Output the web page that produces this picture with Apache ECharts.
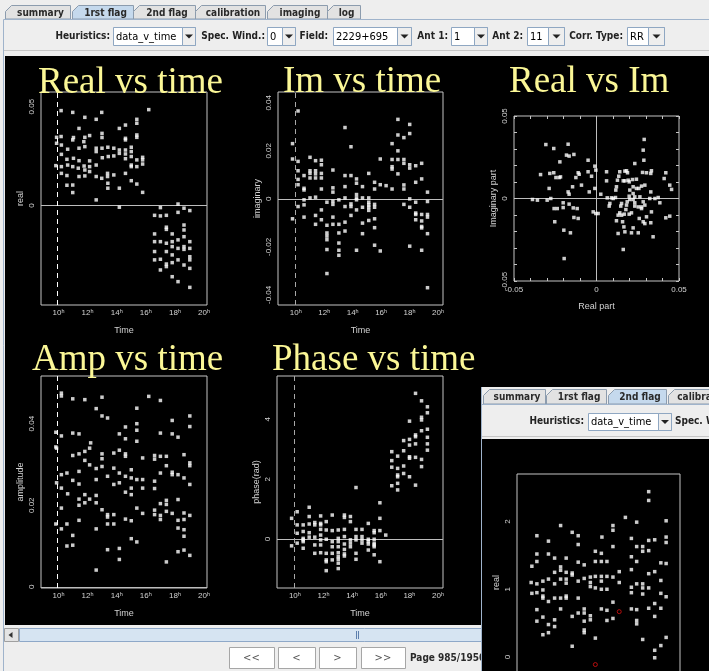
<!DOCTYPE html>
<html>
<head>
<meta charset="utf-8">
<script src="https://cdn.jsdelivr.net/npm/echarts@6/dist/echarts.min.js"></script>
<style>
  html, body { margin: 0; padding: 0; background: #eeeeee; }
  #chart { width: 709px; height: 671px; }
</style>
</head>
<body>
<div id="chart"></div>
<script>
// ---- Visibility data, baseline 1-11, RR, field 2229+695 (hours, value) ----
const flagStartHour = 9.95;

const realVsTime = [
  [10.18,0.048],[10.98,0.0471],[11.81,0.0446],[12.59,0.0436],[12.97,0.0471],[16.2,0.0485],
  [11.41,0.039],[14.6,0.0407],[14.18,0.039],[15.38,0.0436],[15.38,0.0416],
  [9.87,0.0345],[10.18,0.0349],[11.03,0.0344],[10.98,0.0332],[11.81,0.0345],[12.14,0.0354],
  [12.99,0.0365],[12.99,0.0344],[11.74,0.0323],[9.87,0.0315],[10.2,0.0306],[10.63,0.0285],
  [11.41,0.029],[11.81,0.0298],[12.59,0.029],[12.59,0.0273],[12.99,0.029],[13.39,0.0295],
  [13.8,0.029],[14.18,0.0281],[14.18,0.0264],[14.6,0.0281],[14.6,0.0261],[14.6,0.0332],
  [14.6,0.034],[15.0,0.0295],[15.0,0.0273],[15.38,0.0357],[15.38,0.0345],[13.8,0.0251],
  [13.42,0.0248],[13.01,0.0242],[14.6,0.0237],[15.0,0.0248],[15.78,0.0244],[15.78,0.0231],
  [15.38,0.0231],[10.2,0.0259],[9.82,0.0202],[10.2,0.0197],[10.58,0.0234],[10.63,0.0205],
  [11.03,0.0239],[11.41,0.0227],[10.98,0.0197],[11.36,0.0189],[11.76,0.02],[12.14,0.0226],
  [12.14,0.0197],[11.81,0.018],[12.59,0.0205],[15.0,0.0205],[15.0,0.0197],[15.38,0.0197],
  [15.78,0.021],[10.2,0.0163],[10.58,0.0152],[11.41,0.0147],[11.81,0.015],[12.14,0.0172],
  [12.59,0.0147],[12.97,0.0138],[13.37,0.0163],[13.37,0.0147],[13.8,0.0155],[13.39,0.0113],
  [13.39,0.0088],[14.18,0.0088],[14.6,0.0163],[15.0,0.0126],[15.38,0.0109],[10.58,0.0103],
  [10.98,0.0104],[10.98,0.0066],[12.59,0.0029],[15.78,0.0067],[14.18,-0.0008],
  [17.0,-0.001],[18.21,0.0008],[18.21,-0.0034],[18.62,-0.0013],[19.02,-0.0025],[16.6,-0.0049],
  [17.0,-0.0052],[17.41,-0.0049],[17.41,-0.0109],[17.41,-0.012],[16.6,-0.0143],[17.0,-0.0182],
  [16.6,-0.0182],[16.6,-0.0232],[16.6,-0.0274],[17.0,-0.0271],[17.0,-0.0325],[17.41,-0.019],
  [17.41,-0.0232],[17.41,-0.0295],[17.41,-0.0308],[17.81,-0.0143],[17.81,-0.0182],[17.81,-0.0207],
  [17.81,-0.0249],[17.81,-0.0288],[17.81,-0.0359],[18.21,-0.0173],[18.21,-0.0216],[18.21,-0.0274],
  [18.21,-0.0384],[18.62,-0.0098],[18.62,-0.0123],[18.62,-0.0157],[18.62,-0.0207],[18.62,-0.03],
  [19.02,-0.0182],[19.02,-0.0216],[19.02,-0.0258],[19.02,-0.0274],[19.02,-0.0317],[19.02,-0.0413],
  [18.62,-0.0221]
];

const imagVsTime = [
  [10.16,0.0366],[9.77,0.023],[9.77,0.0166],[10.16,0.0156],[9.77,-0.0083],[10.16,0.0117],[10.16,0.0081],[10.16,0.0059],[10.16,-0.0032],
  [10.58,0.0097],[10.58,0.0044],[10.58,0.0037],[10.58,-0.0004],[10.58,-0.0025],[10.58,-0.0076],
  [11.0,0.0173],[11.0,0.0117],[11.0,0.0106],[11.0,0.0087],[11.0,0.0004],
  [11.39,0.0159],[11.39,0.0117],[11.39,0.0104],[11.39,0.0087],[11.39,0.0007],[11.39,-0.0069],[11.39,-0.0106],
  [11.8,0.0161],[11.8,0.0142],[11.8,0.0106],[11.8,0.0087],[11.8,0.0041],[11.8,-0.0046],[11.8,-0.0087],
  [12.19,-0.0014],[12.19,-0.011],[12.19,-0.0142],[12.19,-0.0155],[12.19,-0.017],[12.19,-0.0211],[12.19,-0.0311],
  [12.61,0.012],[12.61,0.0046],[12.61,0.0028],[12.61,-0.001],[12.61,-0.0023],[12.61,-0.0076],[12.61,-0.0106],
  [13.03,-0.0004],[13.03,-0.0106],[13.03,-0.0142],[13.03,-0.0184],[13.03,-0.0214],[13.03,-0.0235],
  [13.46,0.0297],[13.46,0.0097],[13.46,0.0051],[13.46,0.0004],[13.46,-0.0032],[13.46,-0.0097],[13.46,-0.0134],
  [13.88,0.0217],[13.88,0.0097],[13.88,-0.0021],[13.88,-0.0032],[13.88,-0.0069],
  [14.27,0.0083],[14.27,0.0065],[14.27,0.0018],[14.27,0.0004],[14.27,-0.0004],[14.27,-0.0046],[14.27,-0.0214],
  [14.69,0.0051],[14.69,0.0004],[14.69,-0.0101],[14.69,-0.0145],[14.69,-0.0035],
  [15.13,0.0106],[15.13,0.0004],[15.13,-0.0014],[15.13,-0.0035],[15.13,-0.0048],[15.13,-0.009],[15.13,-0.0025],
  [15.54,0.0069],[15.54,0.0041],[15.54,-0.0023],[15.54,-0.0035],[15.54,-0.0083],[15.54,-0.012],[15.54,-0.0193],
  [15.94,0.0166],[15.94,0.0059],[15.94,-0.0217],
  [16.35,0.0055],
  [16.77,0.023],[16.77,0.0164],[16.77,0.0134],[16.77,0.0124],[16.77,0.0041],
  [17.18,0.0331],[17.18,0.0266],[17.18,0.02],[17.18,0.0164],[17.18,0.0104],
  [17.6,0.0255],[17.6,0.0164],[17.6,0.0148],[17.6,0.0058],[17.6,0.0041],[17.6,-0.0023],
  [18.01,0.031],[18.01,0.0272],[18.01,0.0142],[18.01,0.0128],[18.01,0],[18.01,-0.0035],[18.01,-0.0197],
  [18.43,0.0138],[18.43,0.0069],[18.43,-0.0014],[18.43,-0.0059],[18.43,-0.0065],[18.43,-0.0087],
  [18.85,0.0148],[18.85,0.0083],[18.85,-0.0065],[18.85,-0.0092],[18.85,-0.0115],[18.85,-0.0121],[18.85,-0.0214],
  [19.26,0.0028],[19.26,-0.0011],[19.26,-0.0065],[19.26,-0.0076],[19.26,-0.0145],[19.26,-0.037]
];

// [real, imaginary]
const realVsImag = [
  [-0.0307,0.0327],[-0.0259,0.0303],[-0.0172,0.0329],[-0.0182,0.0263],[-0.0166,0.0257],[-0.0137,0.0267],
  [-0.0339,0.0145],[-0.0283,0.0152],[-0.0259,0.0156],[-0.0226,0.0127],[-0.0218,0.0131],[-0.0246,0.0127],
  [-0.0222,0.0222],[-0.0287,0.0061],[-0.0277,0],[-0.0299,-0.001],[-0.0358,-0.001],[-0.0388,-0.0006],
  [-0.0257,-0.0061],[-0.0238,-0.0061],[-0.0202,-0.0026],[-0.0202,-0.0055],[-0.0166,-0.0034],[-0.0172,0.004],
  [-0.0166,0.0026],[-0.0145,0.0071],[-0.0125,0.0127],[-0.0111,0.0156],[-0.0105,0.0147],[-0.0091,0.0081],
  [-0.0051,0.0232],[-0.0051,0.0162],[-0.003,0.0135],[-0.001,0.0196],[-0.0004,0.0172],[-0.001,0.0061],
  [-0.0044,0.004],[-0.002,-0.0081],[-0.0004,-0.0091],[0.001,-0.0091],[0.0026,0.0026],[-0.0253,-0.0141],
  [-0.0198,-0.0192],[-0.0158,-0.0208],[-0.0196,-0.0364],[-0.0141,-0.0057],[-0.0117,-0.0061],[-0.0137,-0.0115],
  [-0.0111,-0.0121],[0.0061,0.0162],[0.0061,0.0107],[0.0065,0.0004],[0.0091,0.0004],[0.0101,0],
  [0.0081,-0.003],[0.0077,-0.0046],[0.0115,0.0006],[0.0117,0.0051],[0.0121,0.0071],[0.0127,0.0111],
  [0.0135,0.0135],[0.0141,0.0162],[0.0172,0.0166],[0.0182,0.0168],[0.0188,0.0156],[0.0162,0.0107],
  [0.0172,0.0107],[0.0192,0.0111],[0.0198,0.0101],[0.0218,0.0115],[0.0232,0.0212],[0.0242,0.0117],
  [0.0222,0.0071],[0.0202,0.0051],[0.0242,0.0061],[0.0257,0.0061],[0.0273,0.0075],[0.0293,0.0081],
  [0.0279,0.0158],[0.0303,0.0156],[0.0287,0.0232],[0.0283,0.0293],[0.0289,0.0358],[0.0333,0.0168],
  [0.0329,0.0152],[0.0329,0.004],[0.0323,0],[0.0354,0],[0.0374,0.0006],[0.0384,-0.0026],
  [0.041,0.0121],[0.042,0.0156],[0.0444,0.0081],[0.0455,0.0055],[0.042,-0.0117],[0.0444,-0.0107],
  [0.0333,-0.0081],[0.0329,-0.0147],[0.0343,-0.0232],[0.0293,-0.0152],[0.0283,-0.0141],[0.0303,-0.0111],
  [0.0259,-0.0121],[0.0253,-0.0051],[0.0232,-0.0046],[0.0232,-0.0026],[0.0222,-0.0006],[0.0232,0.001],
  [0.0222,0.003],[0.0202,-0.0006],[0.0186,-0.002],[0.0182,-0.004],[0.0178,-0.0067],[0.0168,-0.0095],
  [0.0152,-0.0101],[0.0141,-0.0087],[0.0131,-0.0101],[0.0121,-0.0135],[0.0131,-0.0212],[0.0158,-0.0141],
  [0.0166,-0.0172],[0.0172,-0.0202],[0.0198,-0.0095],[0.0212,-0.0087],[0.0212,-0.0208],[0.0222,-0.0178],
  [0.0253,-0.0208],[0.0273,-0.0051],[0.0283,-0.002],[0.0263,0.001],[0.0198,0.0014],[0.0162,-0.0309],
  [0.0152,-0.003],[0.0147,-0.0046],[0.0273,-0.0061],[0.0293,-0.004]
];

const ampVsTime = [
  [10.2,0.0475],[10.2,0.0468],[10.98,0.0461],[11.81,0.0459],[12.99,0.0465],[12.59,0.0437],[12.99,0.0419],
  [13.37,0.0414],[15.38,0.0438],[16.2,0.0467],[17.0,0.0457],[17.81,0.0408],[19.02,0.0419],[19.02,0.0393],
  [9.82,0.0379],[10.2,0.037],[10.98,0.0377],[11.41,0.0375],[9.82,0.0343],[9.87,0.034],[10.98,0.0322],
  [11.41,0.0326],[11.81,0.0332],[12.14,0.034],[12.21,0.0353],[12.99,0.0326],[12.99,0.0314],[13.8,0.0328],
  [14.18,0.0335],[14.6,0.0326],[14.6,0.032],[14.6,0.0392],[14.6,0.0363],[14.18,0.0375],[15.38,0.04],
  [15.38,0.0384],[15.38,0.0357],[15.78,0.0316],[16.6,0.0322],[16.6,0.0313],[17.0,0.0377],[17.0,0.032],
  [17.41,0.032],[17.81,0.0375],[18.21,0.0367],[18.62,0.0324],[19.02,0.0304],[19.02,0.0297],
  [10.2,0.0275],[10.58,0.0279],[9.87,0.0255],[10.2,0.0242],[10.98,0.0261],[11.41,0.0283],[11.41,0.0252],
  [11.81,0.031],[12.14,0.0299],[12.59,0.029],[12.59,0.0263],[12.99,0.0295],[13.37,0.0271],[13.8,0.0291],
  [13.8,0.0251],[14.18,0.0255],[14.18,0.0279],[14.6,0.0271],[14.6,0.0232],[15.0,0.0287],[15.0,0.0267],
  [15.0,0.0242],[15.0,0.0226],[15.38,0.0263],[15.78,0.0263],[15.78,0.0242],[16.6,0.0259],[16.6,0.0241],
  [17.0,0.0279],[17.41,0.0297],[17.81,0.0281],[17.81,0.0275],[18.21,0.0275],[18.62,0.0267],[19.02,0.0251],
  [10.63,0.0228],[10.2,0.0193],[10.2,0.0142],[11.41,0.0215],[11.41,0.02],[11.81,0.0226],[11.81,0.0206],
  [12.14,0.0215],[12.59,0.0224],[12.59,0.0206],[12.99,0.0189],[13.37,0.0177],[13.37,0.0171],[13.37,0.0154],
  [13.8,0.0154],[13.8,0.0177],[14.6,0.0166],[15.0,0.0162],[15.38,0.0193],[15.78,0.018],[16.6,0.0188],
  [16.6,0.0177],[17.0,0.0204],[17.0,0.0175],[17.0,0.0165],[17.41,0.0212],[17.41,0.0202],[17.41,0.0185],
  [17.81,0.018],[18.21,0.0214],[18.21,0.0163],[18.21,0.0144],[18.62,0.0181],[18.62,0.0165],[18.62,0.014],
  [18.62,0.0124],[19.02,0.0175],[9.82,0.0154],[10.58,0.0154],[10.98,0.0126],[10.58,0.01],[10.98,0.0102],
  [11.41,0.0163],[12.59,0.0142],[13.37,0.0091],[14.18,0.0094],[14.18,0.0067],[15.0,0.0118],[15.38,0.011],
  [17.41,0.0061],[18.21,0.0086],[18.62,0.009],[19.02,0.0077],[12.59,0.0041]
];

const phaseVsTime = [
  [9.77,0.69],[10.16,0.91],[9.77,-0.23],[10.16,0.47],[10.16,0.19],[10.16,-0.14],
  [10.58,0.47],[10.58,0.25],[10.58,0.02],[10.58,-0.03],[10.58,-0.09],[10.58,-0.31],
  [11.0,1.06],[11.0,0.75],[11.0,0.5],[11.0,0.21],[11.0,0.06],
  [11.39,0.55],[11.39,0.47],[11.39,0.06],[11.39,-0.2],[11.39,-0.48],
  [11.8,0.77],[11.8,0.52],[11.8,0.47],[11.8,0.32],[11.8,0.13],[11.8,-0.03],[11.8,-0.2],[11.8,-0.46],
  [12.19,0.58],[12.19,0.3],[12.19,-0.01],[12.19,-0.48],[12.19,-0.7],[12.19,-0.76],[12.19,-1.06],
  [12.61,0.8],[12.61,0.28],[12.61,-0.09],[12.61,-0.26],[12.61,-0.48],[12.61,-0.7],
  [13.03,0.3],[13.03,0.02],[13.03,-0.09],[13.03,-0.26],[13.03,-0.46],[13.03,-0.59],[13.03,-0.68],[13.03,-0.81],[13.03,-0.99],
  [13.46,0.8],[13.46,0.72],[13.46,0.32],[13.46,0.08],[13.46,-0.17],[13.46,-0.35],[13.46,-0.5],[13.46,-0.57],
  [13.88,0.75],[13.88,0.58],[13.88,-0.03],[13.88,-0.14],[13.88,-0.26],
  [14.27,1.72],[14.27,0.32],[14.27,0.08],[14.27,-0.03],[14.27,-0.48],[14.27,-0.68],
  [14.69,0.32],[14.69,0.08],[14.69,-0.03],[14.69,-0.14],
  [15.13,0.52],[15.13,-0.01],[15.13,-0.09],[15.13,-0.37],[15.13,-0.17],
  [15.54,0.28],[15.54,0.21],[15.54,-0.01],[15.54,-0.14],[15.54,-0.2],[15.54,-0.26],[15.54,-0.53],
  [15.94,1.21],[15.94,0.69],[15.94,0.28],[15.94,-0.76],
  [16.35,0.13],
  [16.77,2.92],[16.77,2.62],[16.77,2.4],[16.77,1.78],
  [17.18,2.77],[17.18,2.36],[17.18,2.14],[17.18,2.08],[17.18,1.86],[17.18,1.64],
  [17.6,3.29],[17.6,2.95],[17.6,2.44],[17.6,2.19],
  [18.01,3.94],[18.01,3.33],[18.01,3.14],[18.01,2.75],[18.01,2.7],[18.01,2.08],
  [18.43,3.42],[18.43,3.48],[18.43,3.18],[18.43,2.73],[18.43,1.8],[18.43,4.87],
  [18.85,4.62],[18.85,4.07],[18.85,3.98],[18.85,3.62],[18.85,2.66],[18.85,2.42],
  [19.26,4.42],[19.26,4.22],[19.26,3.67],[19.26,3.4],[19.26,3.18],[19.26,2.97]
];

// second flagging pass (real part, rescaled)
const secondRealVsTime = [
  [10.19,1.79],[10.19,1.52],[10.19,1.41],[9.84,1.34],[9.79,1.1],[9.84,0.94],[10.19,1.08],[10.19,0.95],[10.19,0.7],[10.19,0.53],
  [10.61,1.12],[10.61,0.99],[10.61,0.9],[10.61,0.87],[10.61,0.59],[10.61,0.33],
  [11.0,1.71],[11.0,1.52],[11.0,1.15],[11.0,0.82],[11.0,0.48],[11.0,0.36],
  [11.43,1.46],[11.43,1.25],[11.43,1.08],[11.43,0.87],[11.43,0.55],[11.43,0.45],
  [11.85,1.94],[11.85,1.33],[11.85,1.28],[11.85,1.15],[11.85,0.87],[11.85,0.71],
  [12.24,1.46],[12.24,1.25],[12.24,1.15],[12.24,1.09],[12.24,0.9],[12.24,0.87],
  [12.66,1.84],[12.66,1.24],[12.66,1.21],[12.66,0.6],[12.66,0.16],
  [13.08,1.79],[13.08,1.66],[13.08,1.4],[13.08,1.12],[13.08,0.87],[13.08,0.65],
  [13.5,1.36],[13.5,1.16],[13.5,0.71],[13.5,0.65],[13.5,0.53],[13.5,0.4],[13.5,0.36],
  [13.93,1.18],[13.93,1.1],[13.93,1.04],[13.93,0.61],[13.93,0.55],
  [14.28,1.56],[14.28,1.41],[14.28,1.19],[14.28,1.02],[14.28,0.28],
  [14.7,1.53],[14.7,1.41],[14.7,1.19],[14.7,1.12],[14.7,1.0],[14.74,1.77],[14.7,0.71],
  [15.09,1.41],[15.09,1.19],[15.09,1.0],[15.09,0.69],[15.09,0.54],
  [15.51,1.94],[15.51,1.87],[15.51,1.63],[15.51,1.18],[15.51,0.81],[15.51,0.57],
  [15.95,1.26],[15.95,1.1],
  [16.38,2.06],
  [16.8,1.75],[16.8,1.48],[16.8,1.29],[16.8,1.03],[16.8,0.95],[16.8,0.71],
  [17.17,1.99],[17.17,1.41],[17.17,1.63],[17.17,1.08],[17.17,0.7],[17.17,0.54],[17.17,0.49],
  [17.59,1.63],[17.59,1.56],[17.59,1.08],[17.59,1.02],[17.59,0.93],[17.59,0.26],
  [18.01,2.44],[18.01,2.31],[18.01,1.72],[18.01,1.57],[18.01,1.23],[18.01,1.02],[18.01,0.72],
  [18.43,1.73],[18.43,1.26],[18.43,0.79],[18.43,0.6],[18.43,0.1],[18.43,-0.01],
  [18.86,1.39],[18.86,1.13],[18.86,0.94],[18.86,0.72],[18.86,0.17],
  [19.23,2.01],[19.23,1.77],[19.23,1.69],[19.23,1.38],[19.23,0.89],[19.23,0.29]
];
const secondFlagged = [[15.95,0.67],[14.28,-0.11]];

// tick labels
const timeTicks = [10, 12, 14, 16, 18, 20];
const realTicks = [0, 0.05];
const imagTicks = [-0.04, -0.02, 0, 0.02, 0.04];
const ampTicks = [0, 0.02, 0.04];
const phaseTicks = [0, 2, 4];
const secondRealTicks = [0, 1, 2];

const mainTabs = ['summary', '1rst flag', '2nd flag', 'calibration', 'imaging', 'log'];
const popupTabs = ['summary', '1rst flag', '2nd flag', 'calibration'];
const navButtons = ['<<', '<', '>', '>>'];

// ---------------- window chrome ----------------
const G = [];
const uiBold = 'bold 10px "DejaVu Sans Condensed", "DejaVu Sans", sans-serif';
const uiPlain = '11px "DejaVu Sans Condensed", "DejaVu Sans", sans-serif';
function R(x, y, w, h, fill, stroke, z) {
  G.push({ type: 'rect', z: z, silent: true, shape: { x: x, y: y, width: w, height: h },
           style: { fill: fill || 'none', stroke: stroke || null, lineWidth: 1 } });
}
function L(x1, y1, x2, y2, stroke, z) {
  G.push({ type: 'line', z: z, silent: true, shape: { x1: x1, y1: y1, x2: x2, y2: y2 },
           style: { stroke: stroke, lineWidth: 1 } });
}
function P(points, fill, stroke, z) {
  G.push({ type: 'polygon', z: z, silent: true, shape: { points: points },
           style: { fill: fill, stroke: stroke || null, lineWidth: 1 } });
}
function T(str, x, y, font, fill, align, z) {
  G.push({ type: 'text', z: z, silent: true,
           style: { text: str, x: x, y: y, font: font, fill: fill, align: align || 'left', verticalAlign: 'middle' } });
}
function tab(x0, x1, y0, y1, label, selected, z) {
  P([[x0 + 0.5, y1], [x0 + 0.5, y0 + 6.5], [x0 + 6.5, y0 + 0.5], [x1 + 0.5, y0 + 0.5], [x1 + 0.5, y1]],
    selected ? '#c5d9ed' : '#e2e2e2', '#8c9cae', z);
  T(label, (x0 + x1) / 2 + 3, (y0 + y1) / 2 + 1, uiBold, '#2a2a2a', 'center', z);
}
function combo(x, y, w, h, arrowW, label, z) {
  R(x + 0.5, y + 0.5, w, h, '#ffffff', '#8fa7c2', z);
  R(x + w - arrowW + 0.5, y + 0.5, arrowW, h, '#eeeeee', '#8fa7c2', z);
  const cx = x + w - arrowW / 2 + 0.5, cy = y + h / 2 + 0.5;
  P([[cx - 4, cy - 2], [cx + 4, cy - 2], [cx, cy + 2]], '#222', null, z);
  T(label, x + 3, y + h / 2 + 1, uiPlain, '#000', 'left', z);
}

// main window (z 1)
const zm = 1;
const mainTabX = [[5, 70], [72, 133], [133, 195], [195, 265], [267, 327], [327, 360]];
mainTabs.forEach((t, i) => tab(mainTabX[i][0], mainTabX[i][1], 5, 19, t, i === 1, zm));
L(3.5, 19.5, 709, 19.5, '#9fb3cb', zm);
L(3.5, 19.5, 3.5, 671, '#9fb3cb', zm);
T('Heuristics:', 110, 36, uiBold, '#222', 'right', zm);
combo(113, 27, 82, 18, 13, 'data_v_time', zm);
T('Spec. Wind.:', 265, 36, uiBold, '#222', 'right', zm);
combo(267, 27, 28, 18, 13, '0', zm);
T('Field:', 328, 36, uiBold, '#222', 'right', zm);
combo(333, 27, 78, 18, 14, '2229+695', zm);
T('Ant 1:', 448, 36, uiBold, '#222', 'right', zm);
combo(451, 27, 36, 18, 13, '1', zm);
T('Ant 2:', 523, 36, uiBold, '#222', 'right', zm);
combo(527, 27, 37, 18, 16, '11', zm);
T('Corr. Type:', 623, 36, uiBold, '#222', 'right', zm);
combo(627, 27, 37, 18, 16, 'RR', zm);
L(4, 50.5, 709, 50.5, '#c6c6c6', zm);
R(5, 56, 704, 569, '#000000', null, zm);
// scroll bar
R(4.5, 628.5, 14, 13, '#e4e4e4', '#a0a0a0', zm);
P([[8.5, 635], [12.5, 632], [12.5, 638]], '#333', null, zm);
R(19.5, 628.5, 700, 13, '#d6e4f2', '#8ea8c8', zm);
L(356.5, 631, 356.5, 639, '#5d7fae', zm);
L(358.5, 631, 358.5, 639, '#5d7fae', zm);
// paging buttons
const navX = [[229, 274], [278, 315], [319, 356], [361, 405]];
navButtons.forEach((b, i) => {
  R(navX[i][0] + 0.5, 647.5, navX[i][1] - navX[i][0], 21, '#ffffff', '#a6a6a6', zm);
  T(b, (navX[i][0] + navX[i][1]) / 2, 658, '10px "DejaVu Sans", sans-serif', '#555', 'center', zm);
});
T('Page 985/1950', 410, 658, uiBold, '#2a2a2a', 'left', zm);

// plot titles (z 7)
const titleFont = '37px "Liberation Serif", "Times New Roman", serif';
const titleColor = '#fbf796';
T('Real vs time', 38, 83, titleFont, titleColor, 'left', 7);
T('Im vs time', 283, 82, titleFont, titleColor, 'left', 7);
T('Real vs Im', 509, 82, titleFont, titleColor, 'left', 7);
T('Amp vs time', 32, 360, titleFont, titleColor, 'left', 7);
T('Phase vs time', 272, 360, titleFont, titleColor, 'left', 7);

// overlapping second-pass window (z 10)
const zp = 10;
R(481, 387, 228, 284, '#eeeeee', null, zp);
L(481.5, 387, 481.5, 671, '#9fb3cb', zp);
const popTabX = [[483, 545], [546, 606], [608, 666], [668, 735]];
popupTabs.forEach((t, i) => tab(popTabX[i][0], popTabX[i][1], 389, 404, t, i === 2, zp));
L(481.5, 404.5, 709, 404.5, '#9fb3cb', zp);
T('Heuristics:', 584, 421, uiBold, '#222', 'right', zp);
combo(588, 413, 83, 17, 13, 'data_v_time', zp);
T('Spec. Wind.:', 675, 421, uiBold, '#222', 'left', zp);
L(482, 436.5, 709, 436.5, '#c6c6c6', zp);
R(482, 439, 227, 232, '#000000', null, zp);

// ---------------- axes ----------------
const labelColor = '#d2d2d2';
const sans = '"Liberation Sans", Arial, sans-serif';
const frameColor = '#c4c4c4';
const zeroColor = '#bdbdbd';

function grid(left, top, width, height, z) {
  return { left: left, top: top, width: width, height: height, show: true, outerBoundsMode: 'none',
           containLabel: false, borderColor: frameColor, borderWidth: 1, backgroundColor: 'transparent', z: z };
}
function timeAxis(gi, min, max, z) {
  return { gridIndex: gi, type: 'value', min: min, max: max, z: z,
    axisLine: { show: false, onZero: false }, axisTick: { show: false }, splitLine: { show: false },
    axisLabel: { customValues: timeTicks, formatter: v => v + 'ʰ', color: labelColor, fontSize: 8, fontFamily: sans, margin: 4 },
    name: 'Time', nameLocation: 'middle', nameGap: 21,
    nameTextStyle: { color: labelColor, fontSize: 9, fontFamily: sans } };
}
function valAxis(gi, min, max, ticks, name, z) {
  return { gridIndex: gi, type: 'value', min: min, max: max, z: z,
    axisLine: { show: false, onZero: false }, axisTick: { show: false }, splitLine: { show: false },
    axisLabel: { customValues: ticks, rotate: 90, formatter: v => String(v), color: labelColor, fontSize: 8, fontFamily: sans, margin: 5 },
    name: name, nameLocation: 'middle', nameGap: 16,
    nameTextStyle: { color: labelColor, fontSize: 9, fontFamily: sans } };
}
function complexAxis(gi, pos, isY, showLabel, name) {
  const a = { gridIndex: gi, type: 'value', min: -0.05, max: 0.05, interval: 0.01, position: pos, z: 5,
    axisLine: { show: false, onZero: false }, splitLine: { show: false },
    axisTick: { show: true, inside: true, length: 3, lineStyle: { color: frameColor } },
    axisLabel: { show: showLabel, color: labelColor, fontSize: 8, fontFamily: sans, margin: 5,
      formatter: v => { const r = Math.round(v * 100); return (r === -5 || r === 0 || r === 5) ? String(r / 100) : ''; } } };
  if (isY) a.axisLabel.rotate = 90;
  if (name) {
    a.name = name; a.nameLocation = 'middle'; a.nameGap = isY ? 16 : 21;
    a.nameTextStyle = { color: labelColor, fontSize: 9, fontFamily: sans };
  }
  return a;
}
function refLines(items) {
  return { silent: true, symbol: ['none', 'none'], label: { show: false }, animation: false, data: items };
}
const zeroLine = { yAxis: 0, lineStyle: { color: zeroColor, width: 1, type: 'solid' } };
const flagLine = c => ({ xAxis: flagStartHour, lineStyle: { color: c, width: 1, type: [5, 4] } });
function dots(xi, yi, data, z, marks) {
  const s = { type: 'scatter', xAxisIndex: xi, yAxisIndex: yi, data: data, symbol: 'rect', symbolSize: 3.5,
              itemStyle: { color: '#ffffff' }, silent: true, z: z, animation: false };
  if (marks) s.markLine = refLines(marks);
  return s;
}

const option = {
  animation: false,
  backgroundColor: '#eeeeee',
  graphic: { elements: G },
  grid: [
    grid(41, 92, 166, 213, 5),
    grid(278, 92, 165, 213, 5),
    grid(514, 116, 165, 165, 5),
    grid(41, 376, 166, 212, 5),
    grid(277, 376, 166, 212, 5),
    grid(517, 474, 163, 217, 12)
  ],
  xAxis: [
    timeAxis(0, 8.8, 20.2, 5),
    timeAxis(1, 8.75, 20.35, 5),
    complexAxis(2, 'bottom', false, true, 'Real part'),
    complexAxis(2, 'top', false, false, null),
    timeAxis(3, 8.8, 20.2, 5),
    timeAxis(4, 8.75, 20.35, 5),
    timeAxis(5, 8.8, 20.2, 12)
  ],
  yAxis: [
    valAxis(0, -0.0502, 0.0574, realTicks, 'real', 5),
    valAxis(1, -0.0442, 0.0445, imagTicks, 'imaginary', 5),
    complexAxis(2, 'left', true, true, 'Imaginary part'),
    complexAxis(2, 'right', true, false, null),
    valAxis(3, -0.0003, 0.0517, ampTicks, 'amplitude', 5),
    valAxis(4, -1.64, 5.45, phaseTicks, 'phase(rad)', 5),
    valAxis(5, -0.5, 2.7, secondRealTicks, 'real', 12)
  ],
  series: [
    dots(0, 0, realVsTime, 6, [zeroLine, flagLine('#ffffff')]),
    dots(1, 1, imagVsTime, 6, [zeroLine, flagLine('#a8a8a8')]),
    dots(2, 2, realVsImag, 6, [
      { xAxis: 0, lineStyle: { color: zeroColor, width: 1, type: 'solid' } },
      { yAxis: 0, lineStyle: { color: zeroColor, width: 1, type: 'solid' } }
    ]),
    dots(4, 4, ampVsTime, 6, [zeroLine, flagLine('#ffffff')]),
    dots(5, 5, phaseVsTime, 6, [zeroLine, flagLine('#a8a8a8')]),
    dots(6, 6, secondRealVsTime, 13, [zeroLine, flagLine('#ffffff')]),
    { type: 'scatter', xAxisIndex: 6, yAxisIndex: 6, data: secondFlagged, symbol: 'circle', symbolSize: 4,
      itemStyle: { color: 'rgba(0,0,0,0)', borderColor: '#e01010', borderWidth: 1 }, silent: true, z: 13, animation: false }
  ]
};

const chart = echarts.init(document.getElementById('chart'), null, { renderer: 'canvas', width: 709, height: 671 });
chart.setOption(option);
</script>
</body>
</html>
